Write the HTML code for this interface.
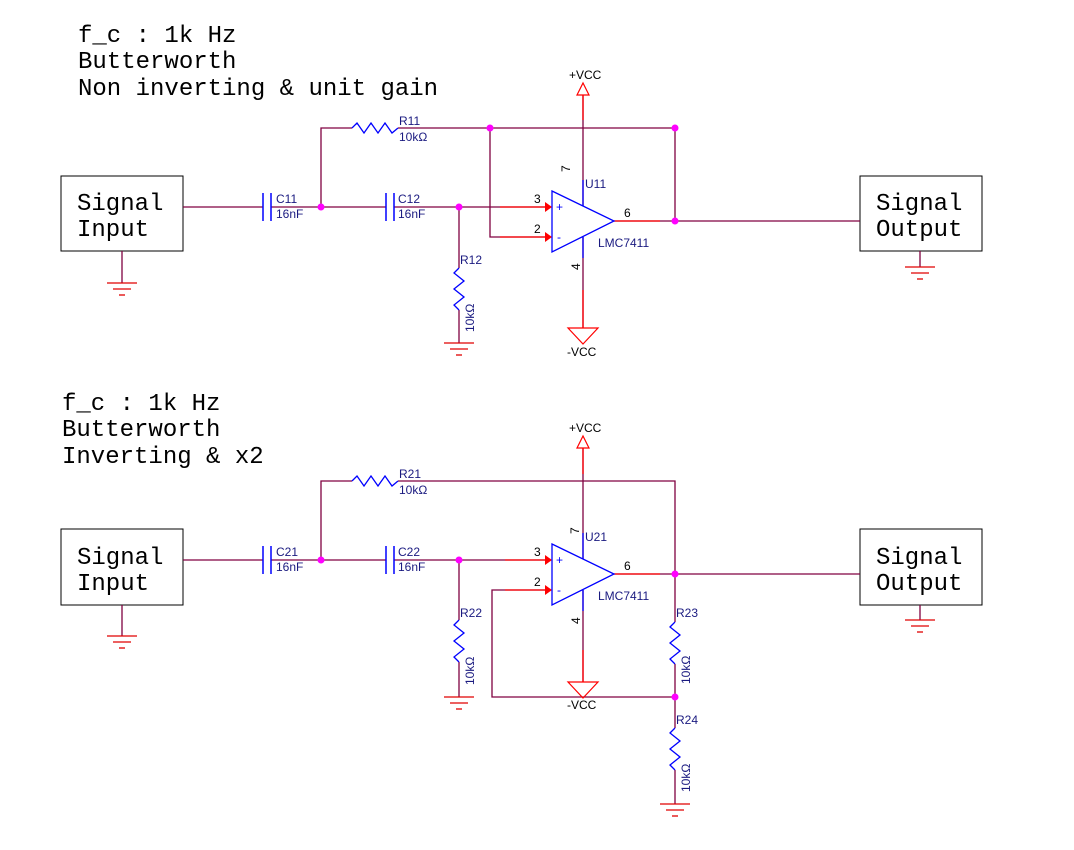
<!DOCTYPE html>
<html><head><style>
body{margin:0;background:#fff;}
svg text{font-family:"Liberation Sans",sans-serif;}
.m{font-family:"Liberation Mono",monospace;font-size:24px;fill:#000;}
.s{font-size:12px;fill:#000;}
.b{font-size:12px;fill:#1a1a80;}
</style></head><body>
<svg width="1074" height="845" viewBox="0 0 1074 845" xmlns="http://www.w3.org/2000/svg">
<defs>
<g id="gnd" stroke="#e00000" stroke-width="1.3">
<line x1="-15" y1="0" x2="15" y2="0"/><line x1="-9" y1="6" x2="9" y2="6"/><line x1="-3" y1="12" x2="3" y2="12"/>
</g>
<g id="resH" fill="none" stroke="#0000ff" stroke-width="1.3">
<polyline points="0,0 5,-5 12,5 19,-5 26,5 33,-5 40,5 46,0"/>
</g>
<g id="resV" fill="none" stroke="#0000ff" stroke-width="1.3">
<polyline points="0,0 -5,5 5,13 -5,21 5,29 -5,37 0,42"/>
</g>
<g id="cap" stroke="#0000ff" stroke-width="1.5">
<line x1="0" y1="-14" x2="0" y2="14"/><line x1="8" y1="-14" x2="8" y2="14"/>
</g>
</defs>

<!-- ================= TOP ================= -->
<text class="m" x="78" y="42">f_c : 1k Hz</text>
<text class="m" x="78" y="68">Butterworth</text>
<text class="m" x="78" y="95">Non inverting &amp; unit gain</text>

<rect x="61" y="176" width="122" height="75" fill="none" stroke="#000" stroke-width="1"/>
<text class="m" x="77" y="210">Signal</text><text class="m" x="77" y="236">Input</text>
<rect x="860" y="176" width="122" height="75" fill="none" stroke="#000" stroke-width="1"/>
<text class="m" x="876" y="210">Signal</text><text class="m" x="876" y="236">Output</text>

<g stroke="#800040" stroke-width="1.3" fill="none">
<line x1="122" y1="251" x2="122" y2="283"/>
<line x1="920" y1="251" x2="920" y2="267"/>
<line x1="183" y1="207" x2="263" y2="207"/>
<line x1="271" y1="207" x2="386" y2="207"/>
<line x1="394" y1="207" x2="545" y2="207"/>
<polyline points="321,207 321,128 352,128"/>
<line x1="398" y1="128" x2="675" y2="128"/>
<polyline points="490,128 490,237 545,237"/>
<polyline points="675,128 675,221"/>
<line x1="614" y1="221" x2="860" y2="221"/>
<line x1="459" y1="207" x2="459" y2="268"/>
<line x1="459" y1="310" x2="459" y2="343"/>
<line x1="583" y1="95" x2="583" y2="206"/>
<line x1="583" y1="237" x2="583" y2="328"/>
</g>
<g stroke="#ff0000" stroke-width="1.3">
<line x1="500" y1="207" x2="546" y2="207"/><line x1="500" y1="237" x2="546" y2="237"/>
<line x1="614" y1="221" x2="660" y2="221"/>
<line x1="583" y1="95" x2="583" y2="120"/><line x1="583" y1="290" x2="583" y2="328"/>
</g>
<polygon points="545,202 552,207 545,212" fill="#ff0000"/>
<polygon points="545,232 552,237 545,242" fill="#ff0000"/>
<use href="#gnd" x="122" y="283"/><use href="#gnd" x="920" y="267"/><use href="#gnd" x="459" y="343"/>
<use href="#cap" x="263" y="207"/><use href="#cap" x="386" y="207"/>
<use href="#resH" x="352" y="128"/><use href="#resV" x="459" y="268"/>
<polygon points="552,191 614,221 552,252" fill="none" stroke="#0000ff" stroke-width="1.3"/>
<line x1="583" y1="180" x2="583" y2="206" stroke="#0000ff" stroke-width="1.3"/>
<line x1="583" y1="237" x2="583" y2="258" stroke="#0000ff" stroke-width="1.3"/>
<text x="556" y="211" font-size="12" fill="#0000ff">+</text><text x="557" y="241" font-size="12" fill="#0000ff">-</text>
<polygon points="577,95 583,83 589,95" fill="none" stroke="#ff0000" stroke-width="1.2"/>
<polygon points="568,328 598,328 583,344" fill="none" stroke="#ff0000" stroke-width="1.2"/>
<g fill="#ff00ff"><circle cx="321" cy="207" r="3.5"/><circle cx="459" cy="207" r="3.5"/><circle cx="490" cy="128" r="3.5"/><circle cx="675" cy="128" r="3.5"/><circle cx="675" cy="221" r="3.5"/></g>
<text class="s" x="569" y="79">+VCC</text><text class="s" x="567" y="356">-VCC</text>
<text class="b" x="399" y="125">R11</text><text class="b" x="399" y="141">10kΩ</text>
<text class="b" x="276" y="203">C11</text><text class="b" x="276" y="218">16nF</text>
<text class="b" x="398" y="203">C12</text><text class="b" x="398" y="218">16nF</text>
<text class="b" x="460" y="264">R12</text>
<text class="b" transform="translate(474,332) rotate(-90)">10kΩ</text>
<text class="s" x="534" y="203">3</text><text class="s" x="534" y="233">2</text><text class="s" x="624" y="217">6</text>
<text class="b" x="585" y="188">U11</text><text class="b" x="598" y="247">LMC7411</text>
<text class="s" transform="translate(570,172) rotate(-90)">7</text>
<text class="s" transform="translate(580,270) rotate(-90)">4</text>

<!-- ================= BOTTOM ================= -->
<text class="m" x="62" y="410">f_c : 1k Hz</text>
<text class="m" x="62" y="436">Butterworth</text>
<text class="m" x="62" y="463">Inverting &amp; x2</text>

<rect x="61" y="529" width="122" height="76" fill="none" stroke="#000" stroke-width="1"/>
<text class="m" x="77" y="564">Signal</text><text class="m" x="77" y="590">Input</text>
<rect x="860" y="529" width="122" height="76" fill="none" stroke="#000" stroke-width="1"/>
<text class="m" x="876" y="564">Signal</text><text class="m" x="876" y="590">Output</text>

<g stroke="#800040" stroke-width="1.3" fill="none">
<line x1="122" y1="605" x2="122" y2="636"/>
<line x1="920" y1="605" x2="920" y2="620"/>
<line x1="183" y1="560" x2="263" y2="560"/>
<line x1="271" y1="560" x2="386" y2="560"/>
<line x1="394" y1="560" x2="545" y2="560"/>
<polyline points="321,560 321,481 352,481"/>
<polyline points="398,481 675,481 675,622"/>
<line x1="614" y1="574" x2="860" y2="574"/>
<polyline points="545,590 492,590 492,697 675,697"/>
<line x1="675" y1="664" x2="675" y2="728"/>
<line x1="675" y1="770" x2="675" y2="804"/>
<line x1="459" y1="560" x2="459" y2="620"/>
<line x1="459" y1="662" x2="459" y2="697"/>
<line x1="583" y1="448" x2="583" y2="559"/>
<line x1="583" y1="590" x2="583" y2="682"/>
</g>
<g stroke="#ff0000" stroke-width="1.3">
<line x1="505" y1="560" x2="546" y2="560"/><line x1="505" y1="590" x2="546" y2="590"/>
<line x1="614" y1="574" x2="660" y2="574"/>
<line x1="583" y1="448" x2="583" y2="474"/><line x1="583" y1="650" x2="583" y2="682"/>
</g>
<polygon points="545,555 552,560 545,565" fill="#ff0000"/>
<polygon points="545,585 552,590 545,595" fill="#ff0000"/>
<use href="#gnd" x="122" y="636"/><use href="#gnd" x="920" y="620"/><use href="#gnd" x="459" y="697"/><use href="#gnd" x="675" y="804"/>
<use href="#cap" x="263" y="560"/><use href="#cap" x="386" y="560"/>
<use href="#resH" x="352" y="481"/><use href="#resV" x="459" y="620"/>
<use href="#resV" x="675" y="622"/><use href="#resV" x="675" y="728"/>
<polygon points="552,544 614,574 552,605" fill="none" stroke="#0000ff" stroke-width="1.3"/>
<line x1="583" y1="533" x2="583" y2="559" stroke="#0000ff" stroke-width="1.3"/>
<line x1="583" y1="590" x2="583" y2="611" stroke="#0000ff" stroke-width="1.3"/>
<text x="556" y="564" font-size="12" fill="#0000ff">+</text><text x="557" y="594" font-size="12" fill="#0000ff">-</text>
<polygon points="577,448 583,436 589,448" fill="none" stroke="#ff0000" stroke-width="1.2"/>
<polygon points="568,682 598,682 583,698" fill="none" stroke="#ff0000" stroke-width="1.2"/>
<g fill="#ff00ff"><circle cx="321" cy="560" r="3.5"/><circle cx="459" cy="560" r="3.5"/><circle cx="675" cy="574" r="3.5"/><circle cx="675" cy="697" r="3.5"/></g>
<text class="s" x="569" y="432">+VCC</text><text class="s" x="567" y="709">-VCC</text>
<text class="b" x="399" y="478">R21</text><text class="b" x="399" y="494">10kΩ</text>
<text class="b" x="276" y="556">C21</text><text class="b" x="276" y="571">16nF</text>
<text class="b" x="398" y="556">C22</text><text class="b" x="398" y="571">16nF</text>
<text class="b" x="460" y="617">R22</text>
<text class="b" transform="translate(474,685) rotate(-90)">10kΩ</text>
<text class="b" x="676" y="617">R23</text>
<text class="b" transform="translate(690,684) rotate(-90)">10kΩ</text>
<text class="b" x="676" y="724">R24</text>
<text class="b" transform="translate(690,792) rotate(-90)">10kΩ</text>
<text class="s" x="534" y="556">3</text><text class="s" x="534" y="586">2</text><text class="s" x="624" y="570">6</text>
<text class="b" x="585" y="541">U21</text><text class="b" x="598" y="600">LMC7411</text>
<text class="s" transform="translate(579,534) rotate(-90)">7</text>
<text class="s" transform="translate(580,624) rotate(-90)">4</text>
</svg>
</body></html>
